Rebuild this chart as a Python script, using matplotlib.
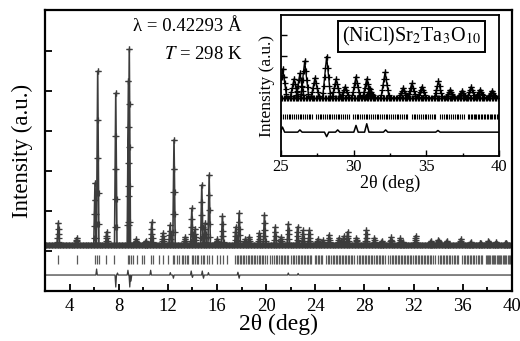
import numpy as np
import matplotlib
matplotlib.use('Agg')
import matplotlib.pyplot as plt
from matplotlib.ticker import MultipleLocator

plt.rcParams['font.family'] = ['Liberation Serif', 'DejaVu Serif']
plt.rcParams['mathtext.fontset'] = 'stix'

# --- data ---
BACKGROUND = 0.15
# peak positions (2theta, deg) and heights above background (a.u.)
PEAK_POS = [3.08, 4.58, 6.07, 6.29, 7.02, 7.76, 8.79, 8.86, 9.40, 10.20, 10.69,
            11.60, 12.18, 12.50, 13.40, 13.95, 14.20, 14.76, 15.03, 15.36, 16.00,
            16.44, 17.53, 17.80, 18.30, 18.60, 19.43, 19.86, 20.73, 21.20, 21.80,
            22.55, 23.00, 23.50, 24.20, 24.60,
            25.12, 25.90, 26.30, 26.63, 27.34, 28.14, 28.79, 29.40, 30.16, 30.90,
            31.10, 32.16, 33.40, 34.00, 34.68, 35.83, 36.63, 37.44, 38.08, 38.70, 39.50]
PEAK_H = [0.55, 0.18, 1.55, 4.35, 0.33, 3.80, 4.10, 4.90, 0.15, 0.10, 0.57,
          0.30, 0.50, 2.63, 0.20, 0.92, 0.40, 1.50, 0.55, 1.75, 0.15,
          0.72, 0.45, 0.80, 0.15, 0.20, 0.30, 0.75, 0.45, 0.20, 0.53,
          0.45, 0.37, 0.37, 0.15, 0.12,
          0.26, 0.17, 0.22, 0.33, 0.18, 0.37, 0.17, 0.10, 0.19, 0.17,
          0.08, 0.23, 0.09, 0.13, 0.10, 0.15, 0.07, 0.06, 0.10, 0.075, 0.06]

# Bragg reflection positions
REFL = [3.09, 4.58, 6.07, 6.21, 6.40, 6.97, 7.65, 8.73, 8.84, 9.00, 9.19, 9.46,
        9.87, 10.06, 10.63, 10.82, 11.31, 11.64, 12.04, 12.40, 12.53, 12.72,
        12.94, 13.13, 13.26, 13.40, 13.54, 13.67, 13.94, 14.08, 14.21, 14.35,
        14.49, 14.68, 14.89, 14.95, 15.16, 15.38, 15.57, 16.03, 16.25, 16.52, 16.79,
        17.47, 17.60, 17.72, 17.85, 17.98, 18.10, 18.22, 18.36, 18.50, 18.61,
        18.75, 18.88, 19.00, 19.12, 19.26, 19.40, 19.52, 19.65, 19.78, 19.90, 20.05,
        20.35, 20.48, 20.60, 20.80, 20.92, 21.05, 21.18, 21.30, 21.42, 21.55,
        21.68, 21.80, 22.05, 22.18, 22.30, 22.42, 22.55, 22.68, 22.80, 22.93,
        23.05, 23.18, 23.30, 23.42, 23.55, 23.68, 23.95, 24.08, 24.20, 24.33,
        24.45, 24.58, 24.90, 25.02, 25.15, 25.28, 25.40, 25.52, 25.65, 25.78,
        25.90, 26.02, 26.15, 26.28, 26.40, 26.52, 26.65, 26.78, 26.90, 27.02,
        27.15, 27.40, 27.52, 27.65, 27.78, 27.90, 28.02, 28.15, 28.28, 28.40,
        28.52, 28.65, 28.78, 28.90, 29.02, 29.15, 29.28, 29.40, 29.52, 29.65,
        29.95, 30.08, 30.20, 30.32, 30.45, 30.58, 30.70, 30.82, 30.95, 31.08,
        31.20, 31.32, 31.45, 31.58, 31.70, 31.82, 31.95, 32.08, 32.20, 32.32,
        32.45, 32.58, 32.70, 32.82, 32.95, 33.08, 33.20, 33.32, 33.45, 33.58,
        33.70, 34.00, 34.12, 34.25, 34.38, 34.50, 34.62, 34.75, 34.88, 35.00,
        35.12, 35.25, 35.38, 35.50, 35.62, 35.95, 36.08, 36.20, 36.32, 36.45,
        36.58, 36.70, 36.82, 36.95, 37.08, 37.20, 37.32, 37.45, 37.58, 37.85,
        37.95, 38.05, 38.15, 38.25, 38.35, 38.45, 38.55, 38.65, 38.75, 38.85,
        38.95, 39.05, 39.15, 39.25, 39.35, 39.45, 39.55, 39.65, 39.75, 39.85, 39.95]

# difference curve spikes (obs - calc)
DIFF_POS = [6.20, 7.76, 7.90, 8.75, 8.90, 9.00, 10.60, 12.20, 12.45, 13.90, 14.00,
            14.80, 14.90, 15.30, 17.70, 17.80, 21.80, 22.60,
            25.10, 26.30, 28.14, 28.90, 30.16, 30.90, 32.20, 35.80]
DIFF_AMP = [0.15, -0.30, 0.05, 0.12, -0.30, -0.15, 0.12, 0.06, -0.08, 0.10, -0.06,
            0.10, -0.08, 0.06, 0.07, -0.08, 0.05, 0.04,
            0.045, 0.02, -0.04, 0.02, 0.06, 0.075, 0.02, 0.015]

WAVELENGTH = 0.42293
TEMP = 298

# --- style ---
OBS_FRAC = [0.12, 0.3, 0.5, 0.72, 1.0]
GRAY = '#3c3c3c'
TICK_GRAY = '#5a5a5a'


def profile(pos, h, lo, hi, hw):
    xs, ys = [lo], [BACKGROUND]
    for p, hh in sorted(zip(pos, h)):
        xs += [p - hw, p, p + hw]
        ys += [BACKGROUND, BACKGROUND + hh, BACKGROUND]
    xs.append(hi)
    ys.append(BACKGROUND)
    return np.array(xs), np.array(ys)


def obs_points(pos, h, lo, hi, hw, step):
    xs = list(np.arange(lo, hi + 1e-9, step))
    ys = [BACKGROUND] * len(xs)
    for p, hh in zip(pos, h):
        for f in OBS_FRAC:
            for s in (-1, 1):
                xs.append(p + s * hw * (1 - f))
                ys.append(BACKGROUND + f * hh)
    xs, ys = np.array(xs), np.array(ys)
    m = (xs >= lo) & (xs <= hi)
    return xs[m], ys[m]


def diff_line(pos, amp, level, lo, hi, hw, sel):
    xs, ys = [lo], [level]
    for p, a in sorted(zip(pos, amp)):
        if sel(p):
            xs += [p - hw, p, p + hw]
            ys += [level, level + a, level]
    xs.append(hi)
    ys.append(level)
    return xs, ys


fig = plt.figure(figsize=(5.2, 3.41), dpi=100)
ax = fig.add_axes([0.0865, 0.1466, 0.898, 0.824])

cx, cy = profile(PEAK_POS, PEAK_H, 2, 40, 0.1)
ox, oy = obs_points(PEAK_POS, PEAK_H, 2, 40, 0.1, 0.06)
ax.plot(ox, oy, '+', color=GRAY, ms=5, mew=0.9)
ax.plot(cx, cy, '-', color=GRAY, lw=1.2)
ax.plot([2, 40], [BACKGROUND, BACKGROUND], '-', color=GRAY, lw=2.5)
ax.vlines(REFL, -0.32, -0.1, color=TICK_GRAY, lw=0.9)
dx, dy = diff_line(DIFF_POS, DIFF_AMP, -0.6, 2, 40, 0.06, lambda p: p < 25)
ax.plot(dx, dy, '-', color=GRAY, lw=0.9)

ax.set_xlim(2, 40)
ax.set_ylim(-1.0, 6.03)
ax.set_xticks(np.arange(4, 41, 4))
ax.xaxis.set_minor_locator(MultipleLocator(2))
ax.set_yticks([0, 1, 2, 3, 4, 5])
ax.set_yticklabels([])
ax.tick_params(axis='both', which='both', direction='in', top=False, right=False,
               width=1.3, labelsize=13.5)
ax.tick_params(axis='both', which='major', length=5)
ax.tick_params(axis='x', which='minor', length=3)
ax.tick_params(axis='x', pad=5)
for s in ax.spines.values():
    s.set_linewidth(1.6)
ax.set_xlabel('2θ (deg)', fontsize=17, labelpad=-1)
ax.set_ylabel('Intensity (a.u.)', fontsize=16.5, labelpad=5)

ax.text(0.422, 0.94, 'λ = %.5f Å' % WAVELENGTH, transform=ax.transAxes,
        ha='right', va='center', fontsize=13.5)
ax.text(0.422, 0.84, '$T$ = %d K' % TEMP, transform=ax.transAxes,
        ha='right', va='center', fontsize=13.5)

# --- inset: 25-40 deg ---
ins = fig.add_axes([0.5404, 0.5425, 0.4192, 0.4135])
ix, iy = profile(PEAK_POS, PEAK_H, 25, 40, 0.28)
iox, ioy = obs_points(PEAK_POS, PEAK_H, 25, 40, 0.28, 0.1)
ins.plot(iox, ioy, '+', color='black', ms=4, mew=0.9)
ins.plot(ix, iy, '-', color='black', lw=1.0)
ins.plot([25, 40], [BACKGROUND, BACKGROUND], '-', color='black', lw=1.0)
ins.vlines(REFL, -0.04, 0.005, color='black', lw=0.8)
idx, idy = diff_line(DIFF_POS, DIFF_AMP, -0.155, 25, 40, 0.15, lambda p: p >= 25)
ins.plot(idx, idy, '-', color='black', lw=1.1)
ins.set_xlim(25, 40)
ins.set_ylim(-0.368, 0.891)
ins.set_xticks([25, 30, 35, 40])
ins.xaxis.set_minor_locator(MultipleLocator(2.5))
ins.set_yticks([0.3375, 0.525, 0.7125])
ins.set_yticklabels([])
ins.tick_params(axis='both', which='both', direction='in', top=False, right=False,
                width=1.0, labelsize=12, pad=2)
ins.tick_params(axis='both', which='major', length=4)
ins.tick_params(axis='x', which='minor', length=2.5)
for s in ins.spines.values():
    s.set_linewidth(1.3)
ins.set_xlabel('2θ (deg)', fontsize=13, labelpad=0)
ins.set_ylabel('Intensity (a.u.)', fontsize=12.5, labelpad=2)
ins.text(0.60, 0.845, '(NiCl)Sr$_2$Ta$_3$O$_{10}$', transform=ins.transAxes,
         ha='center', va='center', fontsize=14.5,
         bbox=dict(boxstyle='square,pad=0.2', fc='white', ec='black', lw=1.4))

fig.savefig('out.png', dpi=100)
